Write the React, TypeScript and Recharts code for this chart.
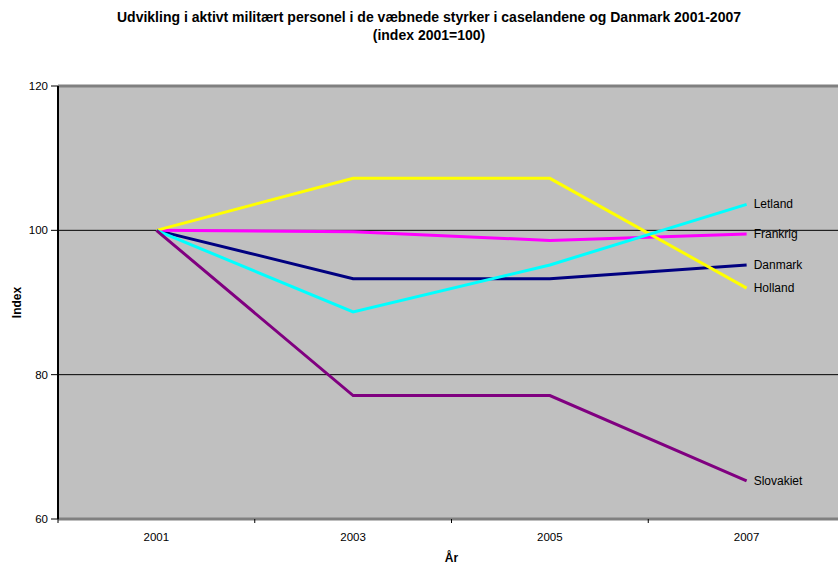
import { CartesianGrid, Line, LineChart, ReferenceLine, XAxis, YAxis } from 'recharts';

const years = ['2001', '2003', '2005', '2007'];
const danmark = [100, 93.3, 93.3, 95.2];
const frankrig = [100, 99.8, 98.6, 99.5];
const holland = [100, 107.2, 107.2, 92.0];
const letland = [100, 88.7, 95.2, 103.6];
const slovakiet = [100, 77.1, 77.1, 65.3];
const yTicks = [60, 80, 100, 120];

const series = [
	{ key: 'Danmark', values: danmark, color: '#000080' },
	{ key: 'Frankrig', values: frankrig, color: '#FF00FF' },
	{ key: 'Holland', values: holland, color: '#FFFF00' },
	{ key: 'Letland', values: letland, color: '#00FFFF' },
	{ key: 'Slovakiet', values: slovakiet, color: '#800080' },
];

const rows = years.map((year, i) => {
	const row: Record<string, string | number> = { year };
	series.forEach((s) => {
		row[s.key] = s.values[i];
	});
	return row;
});

const chartW = 851;
const chartH = 566;
const margin = { top: 86, right: 6, bottom: 0, left: 0 };
const yAxisW = 58;
const xAxisH = 47;
const halfBand = (chartW - margin.right - margin.left - yAxisW) / (years.length * 2);

const font = "'Liberation Sans', Arial, sans-serif";

function XTick(props: any) {
	const { x, y, payload } = props;
	return (
		<g>
			<line x1={x - halfBand} x2={x - halfBand} y1={y} y2={y + 4} stroke='#000' />
			<text x={x} y={y + 22} textAnchor='middle' fontSize={11.5} fill='#000' fontFamily={font}>
				{payload.value}
			</text>
		</g>
	);
}

function endLabel(name: string) {
	return (props: any) => {
		const { x, y, index } = props;
		if (index !== years.length - 1) return null;
		return (
			<text x={x + 7} y={y + 4} fontSize={12} fill='#000' fontFamily={font}>
				{name}
			</text>
		);
	};
}

export default function App() {
	return (
		<div
			style={{
				position: 'absolute',
				left: 0,
				top: 0,
				width: 838,
				height: 566,
				overflow: 'hidden',
				background: '#fff',
				fontFamily: font,
			}}
		>
			<div
				style={{
					position: 'absolute',
					left: 0,
					top: 8,
					width: 858,
					textAlign: 'center',
					fontWeight: 'bold',
					fontSize: 14,
					lineHeight: '18px',
				}}
			>
				Udvikling i aktivt militært personel i de væbnede styrker i caselandene og Danmark 2001-2007
				<br />
				(index 2001=100)
			</div>
			<LineChart width={chartW} height={chartH} data={rows} margin={margin}>
				<CartesianGrid vertical={false} stroke='#000' fill='#C0C0C0' fillOpacity={1} />
				<XAxis
					dataKey='year'
					height={xAxisH}
					padding={{ left: halfBand, right: halfBand }}
					axisLine={{ stroke: '#808080', strokeWidth: 3 }}
					tickLine={false}
					tickSize={0}
					tickMargin={0}
					tick={<XTick />}
					interval={0}
					label={(p: any) => {
						const vb = p.viewBox;
						return (
							<text x={vb.x + vb.width / 2} y={562} textAnchor='middle' fontSize={12} fontWeight='bold' fontFamily={font}>
								År
							</text>
						);
					}}
				/>
				<YAxis
					width={yAxisW}
					domain={[60, 120]}
					ticks={yTicks}
					interval={0}
					axisLine={{ stroke: '#000', strokeWidth: 2 }}
					tickLine={{ stroke: '#000' }}
					tickSize={7}
					tickMargin={3}
					tick={{ fontSize: 11.5, fill: '#000', fontFamily: font }}
					label={(p: any) => {
						const vb = p.viewBox;
						const cy = vb.y + vb.height / 2;
						return (
							<text
								x={17}
								y={cy}
								transform={`rotate(-90, 17, ${cy})`}
								textAnchor='middle'
								dominantBaseline='central'
								fontSize={12}
								fontWeight='bold'
								fontFamily={font}
							>
								Index
							</text>
						);
					}}
				/>
				<ReferenceLine y={120} stroke='#808080' strokeWidth={3} />
				{series.map((s) => (
					<Line
						key={s.key}
						dataKey={s.key}
						stroke={s.color}
						strokeWidth={3}
						dot={false}
						activeDot={false}
						type='linear'
						isAnimationActive={false}
						label={endLabel(s.key)}
					/>
				))}
			</LineChart>
		</div>
	);
}
